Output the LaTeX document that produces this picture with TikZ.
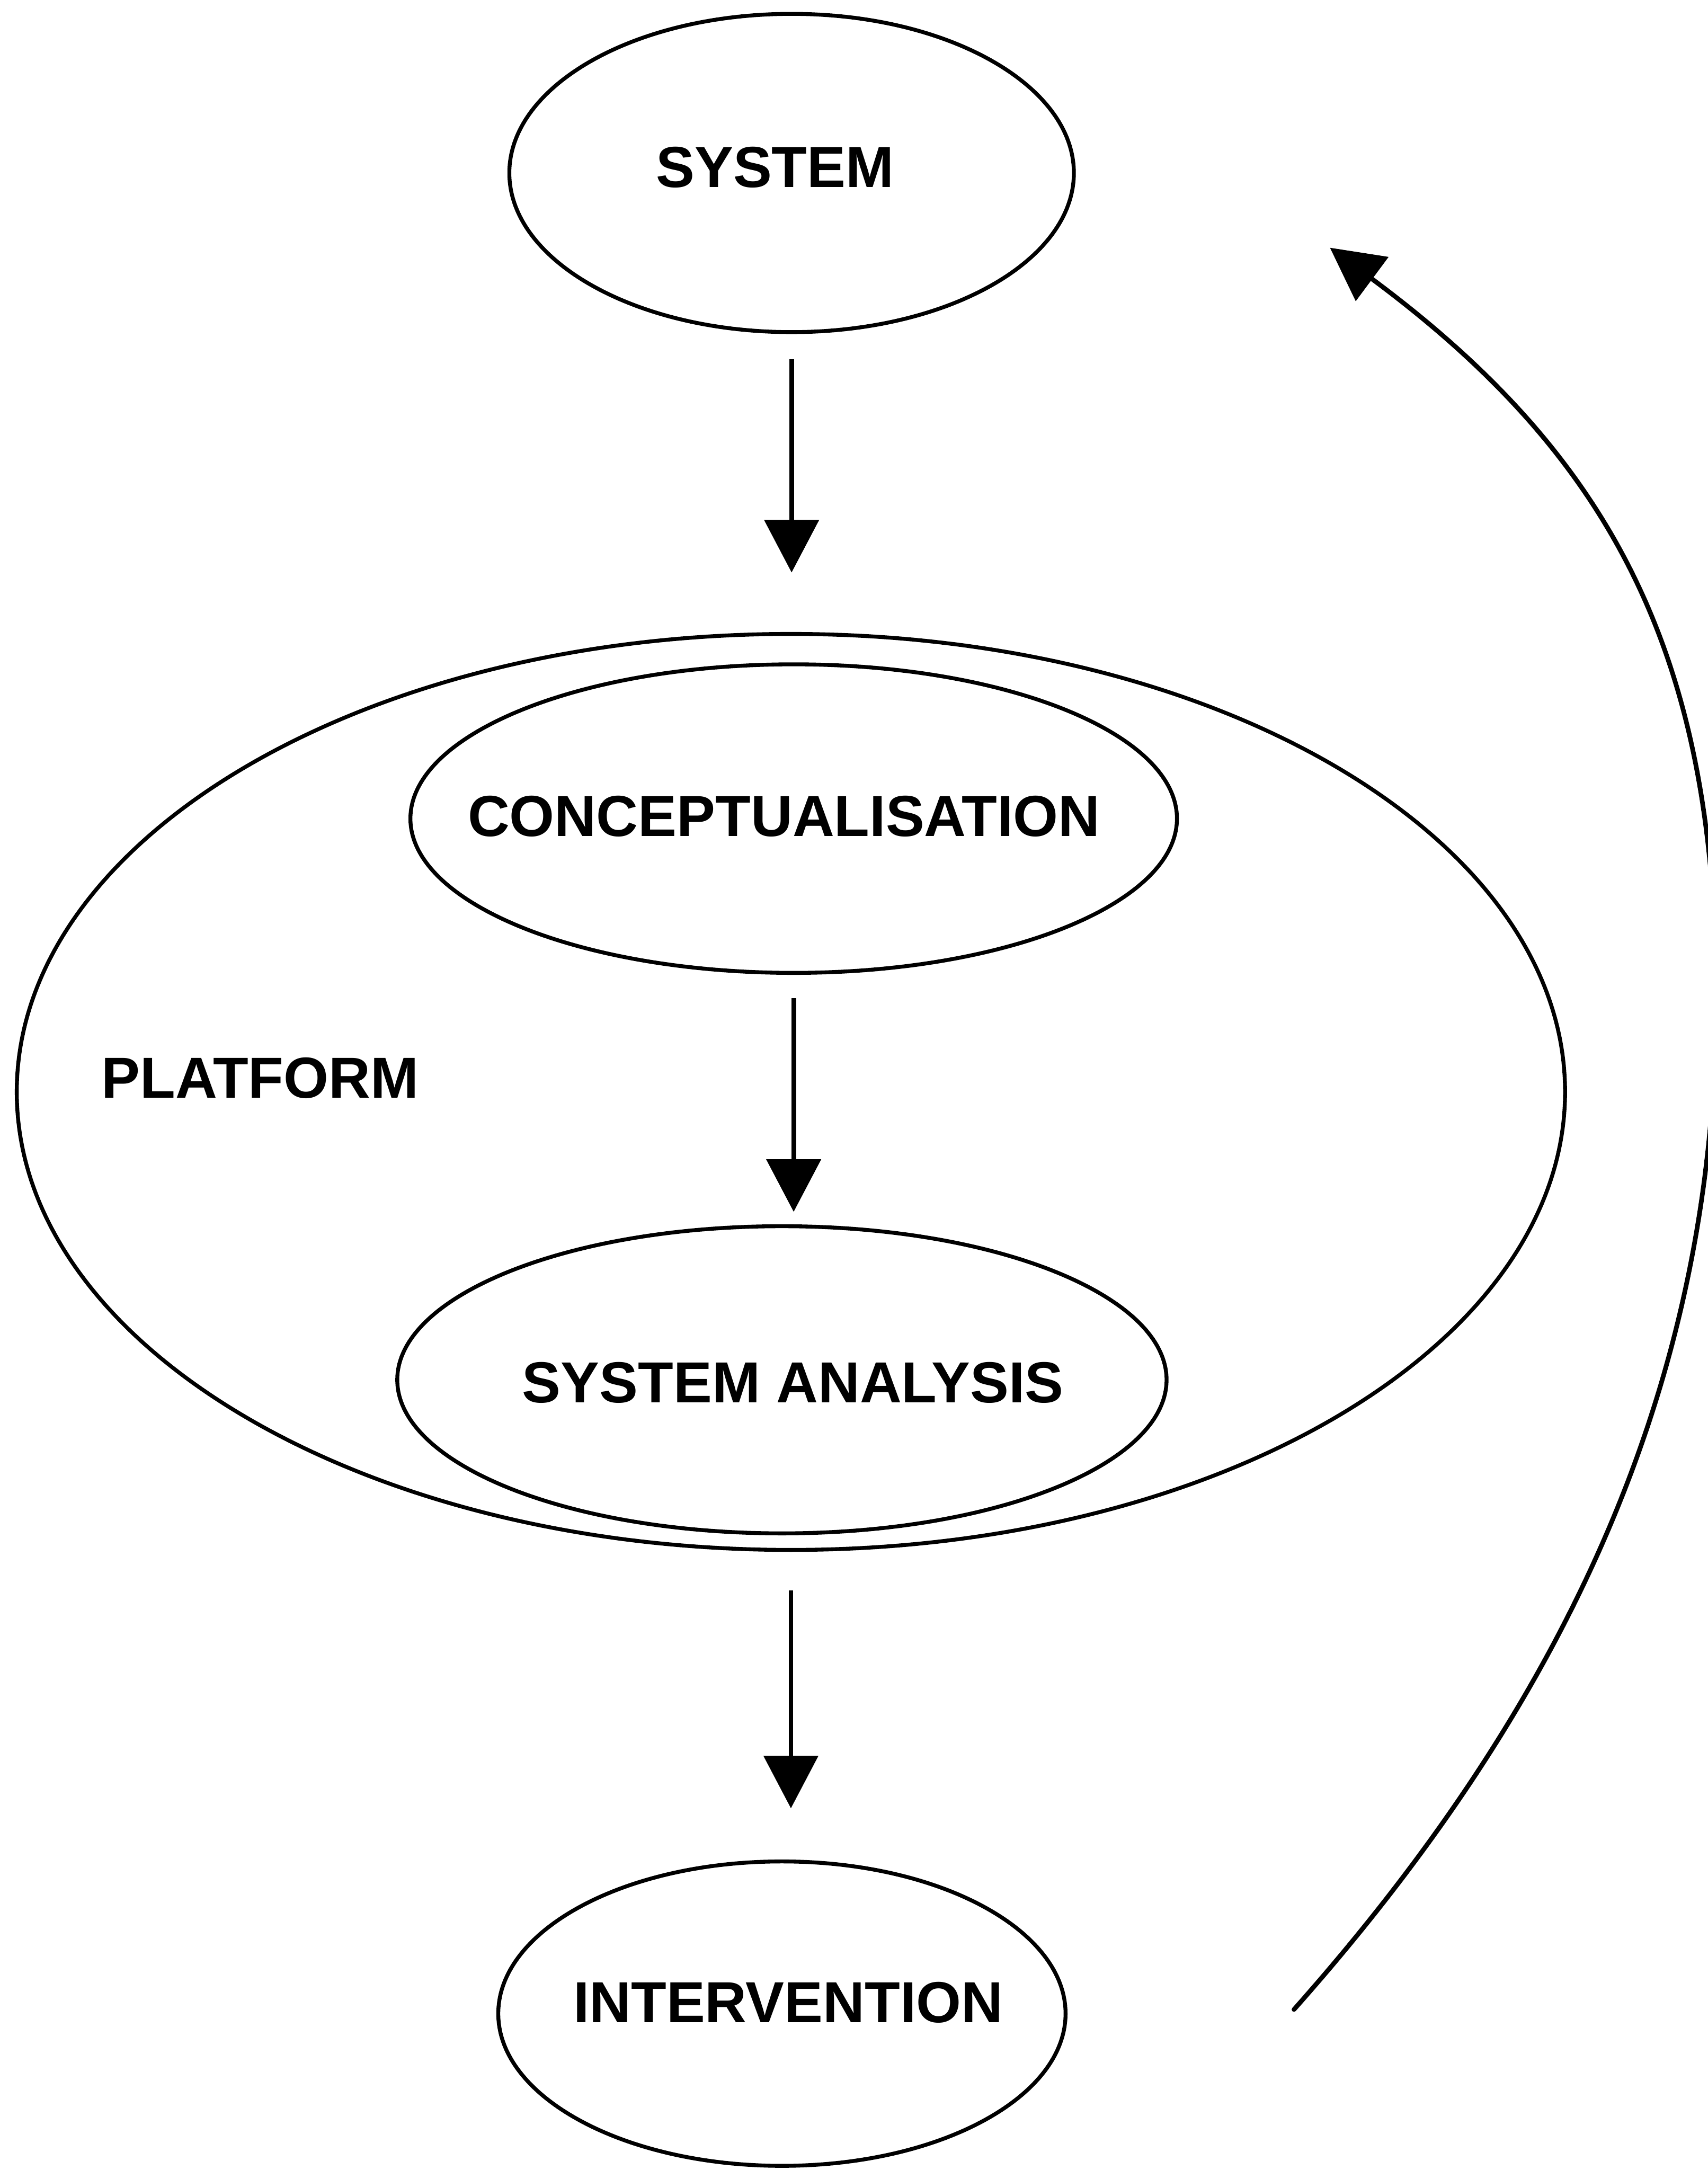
\documentclass[tikz,border=0pt]{standalone}
\usepackage{fontspec}
\setmainfont{Liberation Sans}
\usetikzlibrary{arrows.meta,shapes.geometric}

\tikzset{
  oval/.style={draw, ellipse, line width=1.6pt, inner sep=0pt},
  txt/.style={inner sep=0pt, font=\bfseries\fontsize{23.8}{28}\selectfont},
  flow/.style={line width=1.9pt, -{Triangle[length=0.76cm,width=0.78cm]}},
}

\begin{document}
\begin{tikzpicture}[x=0.02cm, y=-0.02cm]
  \useasboundingbox (0,0) rectangle (1234,1568);

  % stages of the cycle
  \node[oval, minimum width=8.16cm, minimum height=4.6cm] (sys) at (572,125) {};
  \node[oval, minimum width=22.38cm, minimum height=13.24cm] (plat) at (571.5,789) {};
  \node[oval, minimum width=11.08cm, minimum height=4.46cm] (conc) at (573.5,591.5) {};
  \node[oval, minimum width=11.12cm, minimum height=4.44cm] (ana) at (565,997) {};
  \node[oval, minimum width=8.2cm, minimum height=4.4cm] (int) at (565,1455) {};

  % labels
  \node[txt] (sys-t) at (560,121) {SYSTEM};
  \node[txt] (conc-t) at (566.5,590) {CONCEPTUALISATION};
  \node[txt] (plat-t) at (188,779) {PLATFORM};
  \node[txt] (ana-t) at (573,999) {SYSTEM ANALYSIS};
  \node[txt] (int-t) at (569.5,1447) {INTERVENTION};

  % downward flow
  \draw[flow, shorten <=0.36cm, shorten >=0.86cm] (sys.south) -- (sys.south |- plat.north);
  \draw[flow, shorten <=0.34cm, shorten >=0.18cm] (conc.south) -- (conc.south |- ana.north);
  \draw[flow, shorten <=0.56cm, shorten >=0.74cm] (plat.south) -- (plat.south |- int.north);

  % feedback loop from intervention back to the system
  \coordinate (loop-start) at (935,1452);
  \coordinate (loop-mid) at (1240,720);
  \coordinate (loop-end) at (961,179);
  \draw[flow, line cap=round] (loop-start)
    .. controls (1154,1205.5) and (1240,970) .. (loop-mid)
    .. controls (1240,470) and (1161.8,328) .. (loop-end);
\end{tikzpicture}
\end{document}
